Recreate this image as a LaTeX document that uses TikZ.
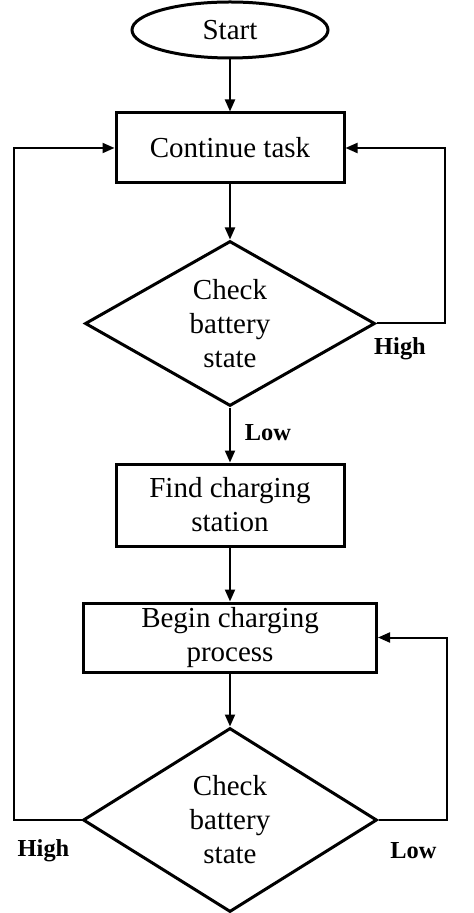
\documentclass[tikz,border=0pt]{standalone}
\usepackage{fontspec}
\setmainfont{Liberation Serif}
\usetikzlibrary{shapes.geometric,arrows.meta}

\begin{document}
\begin{tikzpicture}[x=0.5pt,y=-0.5pt, %[x={10.0pt},y={10.0pt}]
	>={Triangle[length=6pt,width=5pt]},
	startbox/.style={ellipse,draw,line width=1.5pt,minimum width=98pt,minimum height=28pt,inner sep=0pt,font=\fontsize{14.5}{17}\selectfont},
	procbox/.style={rectangle,draw,line width=1.5pt,inner sep=0pt,align=center,font=\fontsize{14.5}{17}\selectfont},
	decbox/.style={diamond,draw,line width=1.5pt,shape aspect=1.7,inner sep=0pt,align=center,font=\fontsize{14.5}{17}\selectfont},
	link/.style={line width=1pt},
	answer/.style={font=\fontsize{12.2}{14}\selectfont\bfseries}]
		\useasboundingbox (0,0) rectangle (474,913);
		\pgfmathsetmacro\OUT{34}
		\node[startbox] (start) at (230,30) {Start};
		\node[procbox,minimum width=114pt,minimum height=35pt] (task) at (230,148) {Continue task};
		\node[decbox,minimum width=145pt,minimum height=82.5pt] (check1) at (230,323.5) {Check\\battery\\state};
		\node[procbox,minimum width=114pt,minimum height=41pt] (find) at (230,505) {Find charging\\station};
		\node[procbox,minimum width=146.5pt,minimum height=34.5pt] (charge) at (230,637.5) {Begin charging\\process};
		\node[decbox,minimum width=147pt,minimum height=92pt] (check2) at (230,820) {Check\\battery\\state};
		\draw[link,->] (start) -- (task);
		\draw[link,->] (task) -- (check1);
		\draw[link,->] (check1) -- (find);
		\draw[link,->] (find) -- (charge);
		\draw[link,->] (charge) -- (check2);
		\draw[link,->] (check1.east) -- ++(\OUT pt,0) |- (task.east);
		\draw[link,->] (check2.west) -- ++(-\OUT pt,0) |- (task.west);
		\draw[link,->] (check2.east) -- ++(\OUT pt,0) |- (charge.east);
		\node[answer] (high1) at (400,349) {High};
		\node[answer] (low1) at (268,432.5) {Low};
		\node[answer] (high2) at (43.5,851) {High};
		\node[answer] (low2) at (413.5,851) {Low};
		\end{tikzpicture}
\end{document}
